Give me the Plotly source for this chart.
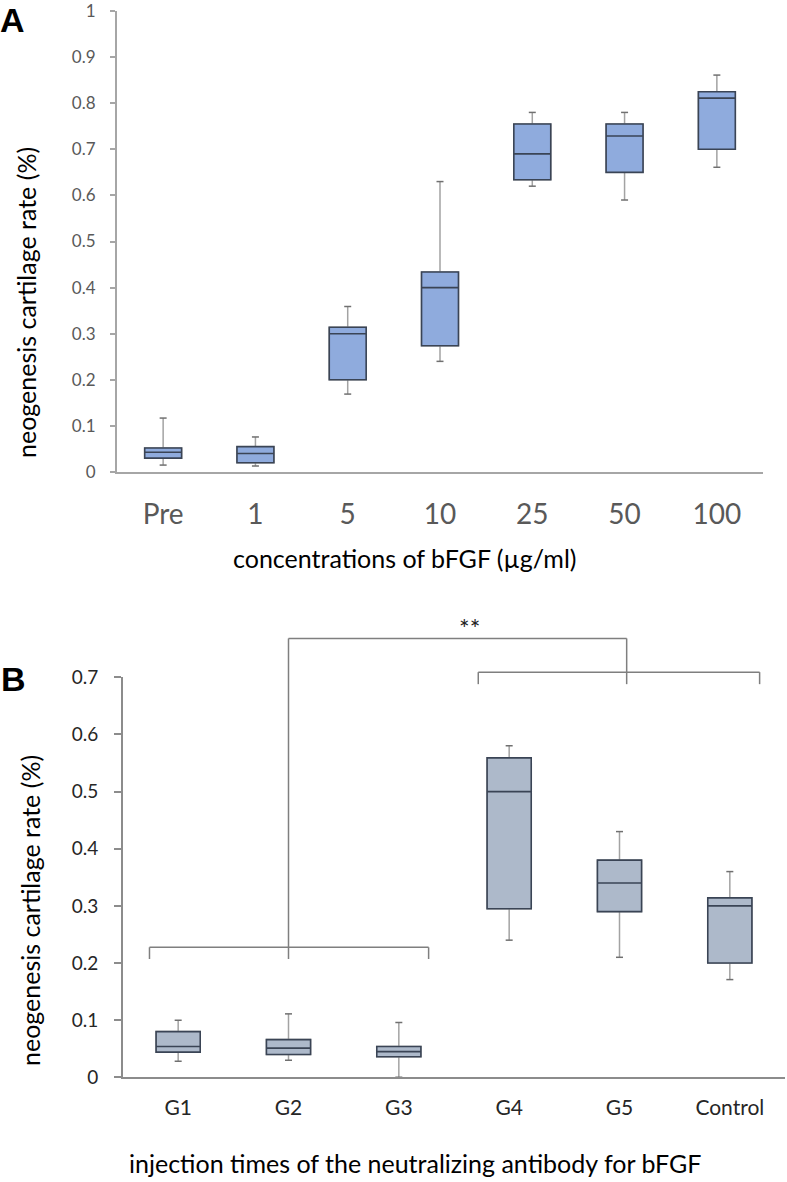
import plotly.graph_objects as go

# ---------------- data ----------------
conc = ["Pre", "1", "5", "10", "25", "50", "100"]
a_low = [0.015, 0.013, 0.169, 0.240, 0.620, 0.590, 0.661]
a_q1 = [0.030, 0.020, 0.200, 0.274, 0.634, 0.650, 0.700]
a_med = [0.043, 0.040, 0.300, 0.400, 0.690, 0.729, 0.811]
a_q3 = [0.052, 0.055, 0.314, 0.434, 0.755, 0.755, 0.825]
a_high = [0.117, 0.076, 0.359, 0.630, 0.780, 0.780, 0.861]

groups = ["G1", "G2", "G3", "G4", "G5", "Control"]
b_low = [0.028, 0.030, 0.000, 0.240, 0.210, 0.171]
b_q1 = [0.044, 0.040, 0.036, 0.295, 0.290, 0.200]
b_med = [0.054, 0.051, 0.045, 0.500, 0.340, 0.300]
b_q3 = [0.080, 0.066, 0.054, 0.559, 0.380, 0.314]
b_high = [0.100, 0.111, 0.096, 0.580, 0.430, 0.360]

a_ticks = [0, 0.1, 0.2, 0.3, 0.4, 0.5, 0.6, 0.7, 0.8, 0.9, 1]
a_ticktext = ["0", "0.1", "0.2", "0.3", "0.4", "0.5", "0.6", "0.7", "0.8", "0.9", "1"]
b_ticks = [0, 0.1, 0.2, 0.3, 0.4, 0.5, 0.6, 0.7]
b_ticktext = ["0", "0.1", "0.2", "0.3", "0.4", "0.5", "0.6", "0.7"]

# significance brackets (category index, value)
left_span = (-0.26, 2.27)
right_span = (2.72, 5.27)
left_level, left_foot = 0.2275, 0.207
right_level, right_foot = 0.709, 0.688
stem_left_x, stem_right_x, stem_top = 1.0, 4.065, 0.768
sig_label, sig_x, sig_y = "**", 2.64, 0.757

W, H = 787, 1182
FONT = "Lato"


def px_x(p):
    return p / W


def px_y(p):
    return 1 - p / H


A_FILL = "#8fabdd"
B_FILL = "#adb9ca"
BOX_EDGE = "#3a4455"
WHISK = "#a3a3a3"

fig = go.Figure()


def add_boxes(cats, low, q1, med, q3, high, fill, xa, ya):
    # whiskers (gray)
    fig.add_trace(go.Box(x=cats, q1=q1, median=med, q3=q3, lowerfence=low, upperfence=high,
                         fillcolor=fill, line=dict(color=WHISK, width=1.5), width=0.4,
                         whiskerwidth=0, boxpoints=False, hoverinfo="skip", showlegend=False,
                         xaxis=xa, yaxis=ya))
    # whisker caps
    fig.add_trace(go.Scatter(x=list(cats) + list(cats), y=list(low) + list(high), mode="markers",
                             marker=dict(symbol="line-ew", size=5, line=dict(color="#707070", width=1.5)),
                             hoverinfo="skip", showlegend=False, xaxis=xa, yaxis=ya))
    # box body with dark outline
    fig.add_trace(go.Box(x=cats, q1=q1, median=med, q3=q3, lowerfence=q1, upperfence=q3,
                         fillcolor=fill, line=dict(color=BOX_EDGE, width=1.6), width=0.4,
                         whiskerwidth=0, boxpoints=False, hoverinfo="skip", showlegend=False,
                         xaxis=xa, yaxis=ya))


add_boxes(conc, a_low, a_q1, a_med, a_q3, a_high, A_FILL, "x", "y")
add_boxes(groups, b_low, b_q1, b_med, b_q3, b_high, B_FILL, "x2", "y2")

BMAX = 0.7
line_style = dict(color="#7f7f7f", width=1.5)


def seg(x0, y0, x1, y1):
    fig.add_shape(type="line", xref="x2", yref="y2 domain", x0=x0, x1=x1,
                  y0=y0 / BMAX, y1=y1 / BMAX, line=line_style)


# left bracket
seg(left_span[0], left_foot, left_span[0], left_level)
seg(left_span[0], left_level, left_span[1], left_level)
seg(left_span[1], left_level, left_span[1], left_foot)
# right bracket
seg(right_span[0], right_foot, right_span[0], right_level)
seg(right_span[0], right_level, right_span[1], right_level)
seg(right_span[1], right_level, right_span[1], right_foot)
# connecting stems
seg(stem_left_x, left_foot, stem_left_x, stem_top)
seg(stem_left_x, stem_top, stem_right_x, stem_top)
seg(stem_right_x, stem_top, stem_right_x, right_foot)

TITLE_SIZE = 25
annotations = [
    dict(text=sig_label, x=sig_x, y=sig_y / BMAX, xref="x2", yref="y2 domain", showarrow=False,
         font=dict(family=FONT, size=25, color="#222222"), yanchor="bottom"),
    dict(text="<b>A</b>", x=px_x(-2), y=px_y(20), xref="paper", yref="paper", xanchor="left",
         yanchor="middle", showarrow=False, font=dict(family="Liberation Sans", size=34, color="black")),
    dict(text="<b>B</b>", x=px_x(-1), y=px_y(679), xref="paper", yref="paper", xanchor="left",
         yanchor="middle", showarrow=False, font=dict(family="Liberation Sans", size=34, color="black")),
    dict(text="neogenesis cartilage rate (%)", x=px_x(26), y=px_y(303), xref="paper", yref="paper",
         textangle=-90, showarrow=False, xanchor="center", yanchor="middle",
         font=dict(family=FONT, size=TITLE_SIZE, color="black")),
    dict(text="neogenesis cartilage rate (%)", x=px_x(30), y=px_y(911), xref="paper", yref="paper",
         textangle=-90, showarrow=False, xanchor="center", yanchor="middle",
         font=dict(family=FONT, size=TITLE_SIZE, color="black")),
    dict(text="concentrations of bFGF (µg/ml)", x=px_x(405), y=px_y(558), xref="paper", yref="paper",
         showarrow=False, xanchor="center", yanchor="middle",
         font=dict(family=FONT, size=TITLE_SIZE, color="black")),
    dict(text="injection times of the neutralizing antibody for bFGF", x=px_x(415), y=px_y(1163),
         xref="paper", yref="paper", showarrow=False, xanchor="center", yanchor="middle",
         font=dict(family=FONT, size=TITLE_SIZE, color="black")),
]

fig.update_layout(
    width=W, height=H, margin=dict(l=0, r=0, t=0, b=0, autoexpand=False),
    paper_bgcolor="white", plot_bgcolor="white", boxmode="overlay",
    font=dict(family=FONT),
    annotations=annotations,
    xaxis=dict(domain=[px_x(117), px_x(763)], anchor="y", type="category", range=[-0.5, 6.5],
               showline=True, linecolor="#a6a6a6", linewidth=2, ticks="", showgrid=False,
               zeroline=False, tickfont=dict(family=FONT, size=28, color="#595959"),
               ticklabelstandoff=16, automargin=False, ticklabeloverflow="allow"),
    yaxis=dict(domain=[px_y(472), px_y(11)], anchor="x", range=[0, 1], tickvals=a_ticks,
               ticktext=a_ticktext, showline=True, linecolor="#a6a6a6", linewidth=2,
               ticks="outside", ticklen=5, tickcolor="#a6a6a6", tickwidth=1.5, showgrid=False,
               zeroline=False, tickfont=dict(family=FONT, size=17, color="#595959"),
               ticklabelstandoff=11, automargin=False, ticklabeloverflow="allow"),
    xaxis2=dict(domain=[px_x(123), px_x(785)], anchor="y2", type="category", range=[-0.5, 5.5],
                showline=True, linecolor="#8c8c8c", linewidth=2, ticks="", showgrid=False,
                zeroline=False, tickfont=dict(family=FONT, size=21, color="#262626"),
                ticklabelstandoff=10, automargin=False, ticklabeloverflow="allow"),
    yaxis2=dict(domain=[px_y(1077.3), px_y(677.3)], anchor="x2", range=[0, BMAX], tickvals=b_ticks,
                ticktext=b_ticktext, showline=True, linecolor="#8c8c8c", linewidth=2,
                ticks="outside", ticklen=7, tickcolor="#8c8c8c", tickwidth=1.5, showgrid=False,
                zeroline=False, tickfont=dict(family=FONT, size=19, color="#262626"),
                ticklabelstandoff=12, automargin=False, ticklabeloverflow="allow"),
)

fig.write_html("out.html", config={"displayModeBar": False},
               post_script="document.body.style.margin='0';document.body.style.overflow='hidden';")
